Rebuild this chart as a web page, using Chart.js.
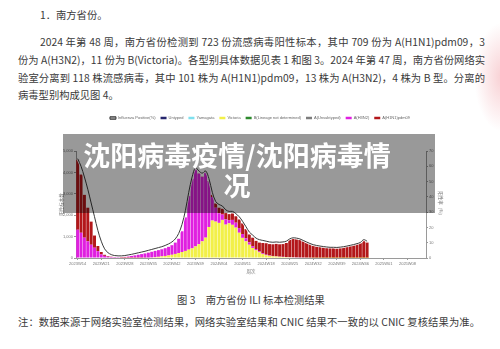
<!DOCTYPE html>
<html><head><meta charset="utf-8">
<script src="https://cdn.jsdelivr.net/npm/chart.js@4"></script>
<style>
html,body{margin:0;padding:0;background:#fff;}
body{width:500px;height:349px;position:relative;overflow:hidden;font-family:"Noto Sans CJK SC","Noto Sans",sans-serif;color:#3a3a3a;}
.t{position:absolute;font-size:10.3px;line-height:14px;white-space:nowrap;}
.j{text-align:justify;text-align-last:justify;white-space:normal;}
#wrap{position:absolute;left:55px;top:111px;width:392px;height:165px;}
#ov{position:absolute;left:63px;top:134px;width:372px;height:79px;background:rgba(0,0,0,0.4);}
#ttl{position:absolute;left:0;top:140px;width:474px;text-align:center;color:#fff;font-weight:700;font-size:27px;line-height:30px;white-space:nowrap;}
#deco{position:absolute;left:474px;top:22px;width:40px;height:110px;background:radial-gradient(ellipse at 70% 50%,rgba(235,120,130,0.35),rgba(255,255,255,0) 70%);}
</style></head>
<body>
<div id="deco"></div>
<div class="t" style="left:40px;top:8px;">1．南方省份。</div>
<div class="t j" style="left:40px;top:35px;width:445px;">2024 年第 48 周，南方省份检测到 723 份流感病毒阳性标本，其中 709 份为 A(H1N1)pdm09，3</div>
<div class="t j" style="left:18px;top:53px;width:467px;">份为 A(H3N2)，11 份为 B(Victoria)。各型别具体数据见表 1 和图 3。2024 年第 47 周，南方省份网络实</div>
<div class="t j" style="left:18px;top:71px;width:467px;">验室分离到 118 株流感病毒，其中 101 株为 A(H1N1)pdm09，13 株为 A(H3N2)，4 株为 B 型。分离的</div>
<div class="t" style="left:18px;top:88px;">病毒型别构成见图 4。</div>
<div id="wrap"><canvas id="c" width="392" height="165"></canvas></div>
<div id="ov"></div>
<div id="ttl">沈阳病毒疫情/沈阳病毒情<br>况</div>
<div class="t" style="left:0;top:293px;width:502px;text-align:center;">图 3　南方省份 ILI 标本检测结果</div>
<div class="t j" style="left:18px;top:315px;width:462px;">注：数据来源于网络实验室检测结果，网络实验室结果和 CNIC 结果不一致的以 CNIC 复核结果为准。</div>
<script>
const weeks = [
'2023W14','2023W15','2023W16','2023W17','2023W18','2023W19','2023W20','2023W21','2023W22','2023W23','2023W24','2023W25','2023W26','2023W27','2023W28','2023W29','2023W30','2023W31','2023W32','2023W33','2023W34','2023W35','2023W36','2023W37','2023W38','2023W39','2023W40','2023W41','2023W42','2023W43','2023W44','2023W45','2023W46','2023W47','2023W48','2023W49','2023W50','2023W51','2023W52',
'2024W01','2024W02','2024W03','2024W04','2024W05','2024W06','2024W07','2024W08','2024W09','2024W10','2024W11','2024W12','2024W13','2024W14','2024W15','2024W16','2024W17','2024W18','2024W19','2024W20','2024W21','2024W22','2024W23','2024W24','2024W25','2024W26','2024W27','2024W28','2024W29','2024W30','2024W31','2024W32','2024W33','2024W34','2024W35','2024W36','2024W37','2024W38','2024W39','2024W40','2024W41','2024W42','2024W43','2024W44','2024W45','2024W46','2024W47','2024W48','2024W49','2024W50','2024W51','2024W52',
'2025W01','2025W02','2025W03','2025W04','2025W05','2025W06','2025W07','2025W08','2025W09','2025W10','2025W11','2025W12','2025W13'];

const untyped = [];
const yamagata = [];
const bNotDetermined = [];
const aUnsubtyped = [];
const victoria = [0,0,0,0,0,0,0,0,0,0, 0,0,0,2,3,4,5,6,8,10, 14,20,28,40,55,75,95,120,150,190, 230,280,330,390,450,540,640,780,950,1450,
 1750,1700,1640,1780,1560,1620,1550,1420,1180,940, 780,620,470,360,265,190,130,100,80,70, 55,45,40,35,30,25,22,20,18,15, 12,10,8,8,6,5,5,5,5,5, 5,5,5,5,5,5,5];
const h3n2 = [1320,1180,950,780,620,480,320,170,100,60, 45,40,42,48,58,72,92,116,144,172, 198,227,259,287,312,332,362,397,447,527, 667,967,1567,2507,3245,3655,3300,3010,3085,2130,
 1100,650,450,250,250,150,230,230,220,180, 140,110,80,60,45,35,25,20,15,12, 10,10,8,8,7,6,5,5,4,4, 3,3,3,3,2,2,2,2,2,2, 2,2,2,2,2,2,2];
const h1n1 = [3280,2720,2000,1570,1080,570,240,110,50,30, 15,10,8,5,4,4,3,3,3,3, 3,3,3,3,3,3,3,3,3,3, 3,3,3,3,5,5,10,10,15,20,
 100,200,260,270,290,280,300,300,400,500, 430,370,400,380,410,475,535,530,545,578, 575,595,652,807,863,849,823,755,698,631, 565,527,509,489,472,463,463,453,473,493, 523,563,593,643,693,823,713];
const positiveRate = [65,60,53,45,36,27,18,11,6,3.5, 2.2,1.6,1.4,1.4,1.6,2,2.4,2.9,3.4,3.9, 4.4,5,5.6,6.2,6.8,7.4,8.2,9.2,10.5,12.5, 16,22,31,43,53,59,57,55.5,57,52,
 43,37,35,34,31.5,30.5,30.5,29,27,24, 20.5,17,15,13,12,11.5,11,10.5,10.3,10.5, 10.3,10.5,11,12.5,13.2,13,12.5,11.5,10.5,9.5, 8.7,8.2,7.8,7.5,7.2,7,7,6.9,7.1,7.4, 7.8,8.3,8.8,9.4,10.2,12,11];

const leftTicksMax = 5000, rightTicksMax = 70;

const legendFix = {
  id:'legendFix',
  beforeInit(chart){
    const lg = chart.legend; if(!lg) return;
    const of = lg.fit.bind(lg);
    lg.fit = function(){ of(); this.height = 40; };
  },
  afterLayout(chart){ const lg = chart.legend; if(lg){ lg.left += 9; lg.right += 9; } }
};

const barBase = {type:'bar', yAxisID:'y', order:2, borderWidth:0, barPercentage:0.88, categoryPercentage:1};
const tickFont = {family:'Liberation Sans, Arial, sans-serif', size:4};
new Chart(document.getElementById('c'), {
  data:{
    labels: weeks,
    datasets:[
      {type:'line', label:'Influenza Positive(%)', data:positiveRate, yAxisID:'y1', order:0, borderColor:'#3a3a3a', backgroundColor:'#9a9a9a', borderWidth:1, pointRadius:0, tension:0.35},
      {...barBase, label:'Untyped', data:untyped, backgroundColor:'#27276e'},
      {...barBase, label:'Yamagata', data:yamagata, backgroundColor:'#7fe0ee'},
      {...barBase, label:'Victoria', data:victoria, backgroundColor:'#f2f048'},
      {...barBase, label:'B(Lineage not determined)', data:bNotDetermined, backgroundColor:'#2d8a2d'},
      {...barBase, label:'A(Unsubtyped)', data:aUnsubtyped, backgroundColor:'#7d7d7d'},
      {...barBase, label:'A(H3N2)', data:h3n2, backgroundColor:'#e020e0'},
      {...barBase, label:'A(H1N1)pdm09', data:h1n1, backgroundColor:'#b3171a'},
      {type:'line', label:'_halo', data:positiveRate, yAxisID:'y1', order:1, borderColor:'rgba(255,255,255,0.9)', borderWidth:2.6, pointRadius:0, tension:0.35}
    ]
  },
  options:{
    responsive:false, animation:false, devicePixelRatio:1,
    layout:{padding:0},
    scales:{
      x:{stacked:true, offset:true,
         grid:{display:true, drawOnChartArea:false, offset:false, tickLength:2, color:c=>(c.index%7===0?'#9a9a9a':'rgba(0,0,0,0)')},
         border:{color:'#9a9a9a'},
         ticks:{autoSkip:false, maxRotation:0, minRotation:0, font:tickFont, color:'#777', padding:1, callback:(v,i)=>(i%7===0?weeks[i]:'')},
         title:{display:true, text:'周次', font:{family:'Noto Sans CJK SC', size:4.5}, color:'#777', padding:{top:1,bottom:2}},
         afterFit(s){ s.height = 18; }},
      y:{stacked:true, position:'left', min:0, max:leftTicksMax,
         grid:{drawOnChartArea:false, tickLength:2, color:'#9a9a9a'}, border:{color:'#9a9a9a'},
         ticks:{stepSize:1000, font:tickFont, color:'#777', padding:1},
         title:{display:true, text:'阳性标本数', font:{family:'Noto Sans CJK SC', size:4.5}, color:'#777', padding:{top:4,bottom:2}},
         afterFit(s){ s.width = 21; }},
      y1:{position:'right', min:0, max:rightTicksMax,
         grid:{drawOnChartArea:false, tickLength:2, color:'#9a9a9a'}, border:{color:'#9a9a9a'},
         ticks:{stepSize:10, font:tickFont, color:'#777', padding:1},
         title:{display:true, text:'阳性率（%）', font:{family:'Noto Sans CJK SC', size:4.5}, color:'#777', padding:{top:4,bottom:2}},
         afterFit(s){ s.width = 21; }}
    },
    plugins:{
      legend:{position:'top', labels:{font:{family:'Liberation Sans, Arial, sans-serif', size:4}, color:'#666', boxWidth:6, boxHeight:2.5, padding:5, filter:it=>it.text!=='_halo'}},
      tooltip:{enabled:false}
    }
  },
  plugins:[legendFix]
});
</script>
</body></html>
